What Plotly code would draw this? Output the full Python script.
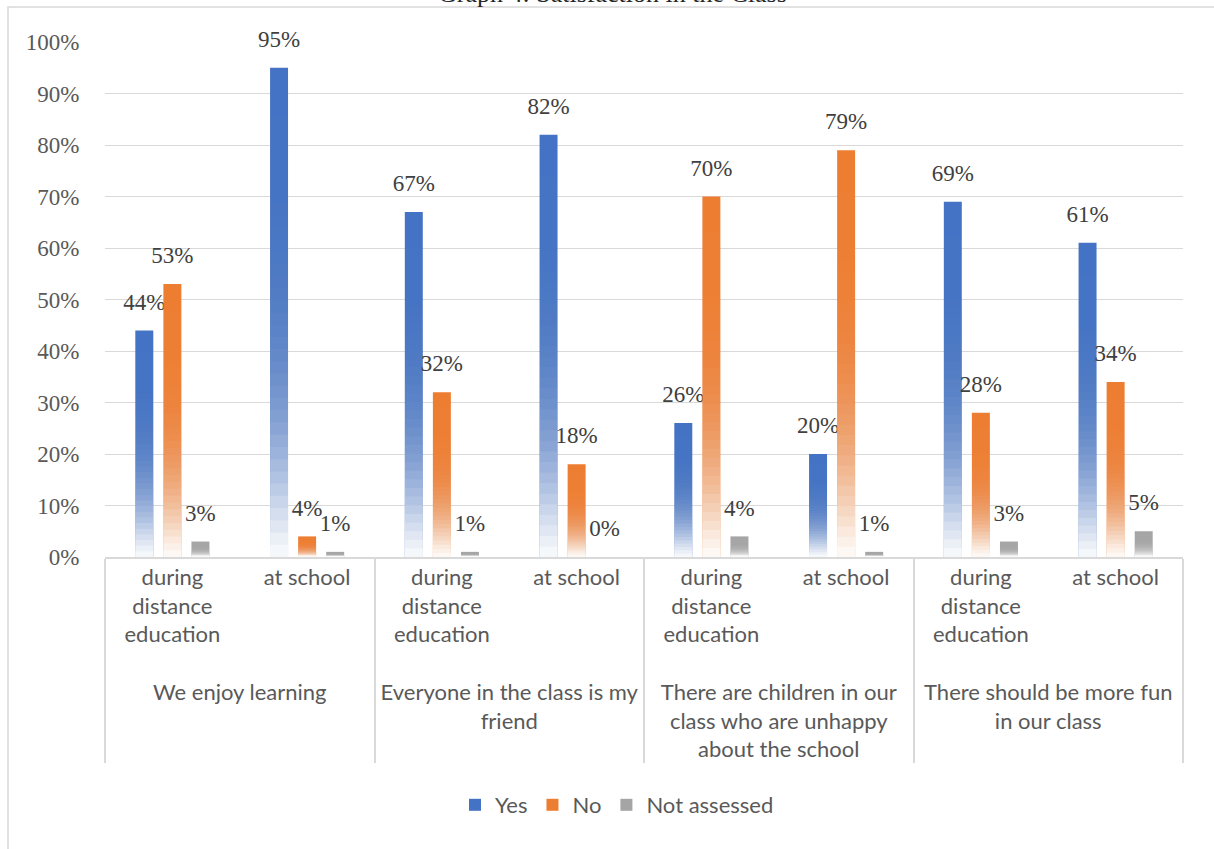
import math
import plotly.graph_objects as go

# ---------------- data ----------------
groups = [
    "We enjoy learning",
    "Everyone in the class is my<br>friend",
    "There are children in our<br>class who are unhappy<br>about the school",
    "There should be more fun<br>in our class",
]
periods = ["during<br>distance<br>education", "at school"]
series_names = ["Yes", "No", "Not assessed"]
yes = [44, 95, 67, 82, 26, 20, 69, 61]
no = [53, 4, 32, 18, 70, 79, 28, 34]
not_assessed = [3, 1, 1, 0, 4, 1, 3, 5]
title_text = "Graph 4: Satisfaction in the Class"

# ---------------- style ----------------
colors = ["#4472C4", "#ED7D31", "#A5A5A5"]
serif = "Liberation Serif, Times New Roman, serif"
sans = "Lato, Liberation Sans, sans-serif"
label_lift = 2.5  # data-unit lift of the value labels above bar tops

W, H = 1214, 849
L, R, T, B = 105, 31, 42, 292
plot_w = W - L - R
plot_h = H - T - B


def px_x(p):
    return (p - L) / plot_w


def px_y(p):
    return (H - B - p) / plot_h


# group labels get a leading blank line to push them below the period labels
x = [["<br>" + g for g in groups for _ in periods],
     [p for _ in groups for p in periods]]

# gradient (white fade toward bar bottom) as stacked translucent overlays
def fade_alpha(t):
    return 0.97 * math.exp(-((t / 0.3) ** 1.3))

step = 0.025
thresholds = [round(0.9 - step * i, 4) for i in range(36)]  # 0.9 ... 0.025
layers = []
prev_A = 0.0
for j, h in enumerate(thresholds):
    lower = thresholds[j + 1] if j + 1 < len(thresholds) else 0.0
    A = fade_alpha((h + lower) / 2)
    o = 1 - (1 - A) / (1 - prev_A) if prev_A < 1 else 0
    o = max(0.0, min(1.0, o))
    layers.append((h, o))
    prev_A = A

fig = go.Figure()
all_series = [yes, no, not_assessed]
for name, vals, col in zip(series_names, all_series, colors):
    fig.add_trace(go.Bar(
        x=x, y=vals, name=name, offsetgroup=name,
        marker=dict(color=col, line=dict(width=0)),
        showlegend=True, hoverinfo="y+name",
    ))
    for h, o in layers:
        fig.add_trace(go.Bar(
            x=x, y=[v * h for v in vals], offsetgroup=name,
            marker=dict(color="white", opacity=o, line=dict(width=0)),
            showlegend=False, hoverinfo="skip",
        ))
    fig.add_trace(go.Bar(
        x=x, y=vals, base=label_lift, offsetgroup=name,
        marker=dict(color="rgba(0,0,0,0)", line=dict(width=0)),
        text=[f"{v}%" for v in vals], textposition="outside",
        textangle=0, constraintext="none", cliponaxis=False,
        textfont=dict(family=serif, size=23, color="#404040"),
        showlegend=False, hoverinfo="skip",
    ))

fig.update_layout(
    width=W, height=H,
    margin=dict(l=L, r=R, t=T, b=B, autoexpand=False),
    paper_bgcolor="white", plot_bgcolor="white",
    barmode="group", bargap=0.375, bargroupgap=0.36,
    showlegend=True,
    legend=dict(
        orientation="h", x=px_x(617), xanchor="center",
        y=px_y(805), yanchor="middle",
        font=dict(family=sans, size=22, color="#595959"),
        traceorder="normal", itemwidth=30,
    ),
    yaxis=dict(
        range=[0, 100], dtick=10, ticksuffix="%",
        showgrid=True, gridcolor="#D9D9D9", gridwidth=1,
        zeroline=False, showline=False,
        tickfont=dict(family=serif, size=23, color="#595959"),
        ticks="outside", ticklen=20, tickcolor="rgba(0,0,0,0)",
        fixedrange=True,
    ),
    xaxis=dict(
        type="multicategory",
        showline=True, linecolor="#D9D9D9", linewidth=1.5,
        showdividers=True, dividercolor="#D9D9D9", dividerwidth=1.5,
        tickfont=dict(family=sans, size=22, color="#595959"),
        ticks="", fixedrange=True,
    ),
    annotations=[dict(
        text=title_text, xref="paper", yref="paper",
        x=px_x(612), y=px_y(10.5), xanchor="center", yanchor="bottom",
        showarrow=False, font=dict(family=serif, size=26, color="#262626"),
    )],
    shapes=[dict(
        type="rect", xref="paper", yref="paper",
        x0=px_x(8), x1=px_x(1260), y0=px_y(900), y1=px_y(7),
        line=dict(color="#D9D9D9", width=1.5), fillcolor="rgba(0,0,0,0)",
        layer="below",
    )],
)

fig.write_html("out.html", config={"displayModeBar": False},
               post_script="document.body.style.margin='0';")
